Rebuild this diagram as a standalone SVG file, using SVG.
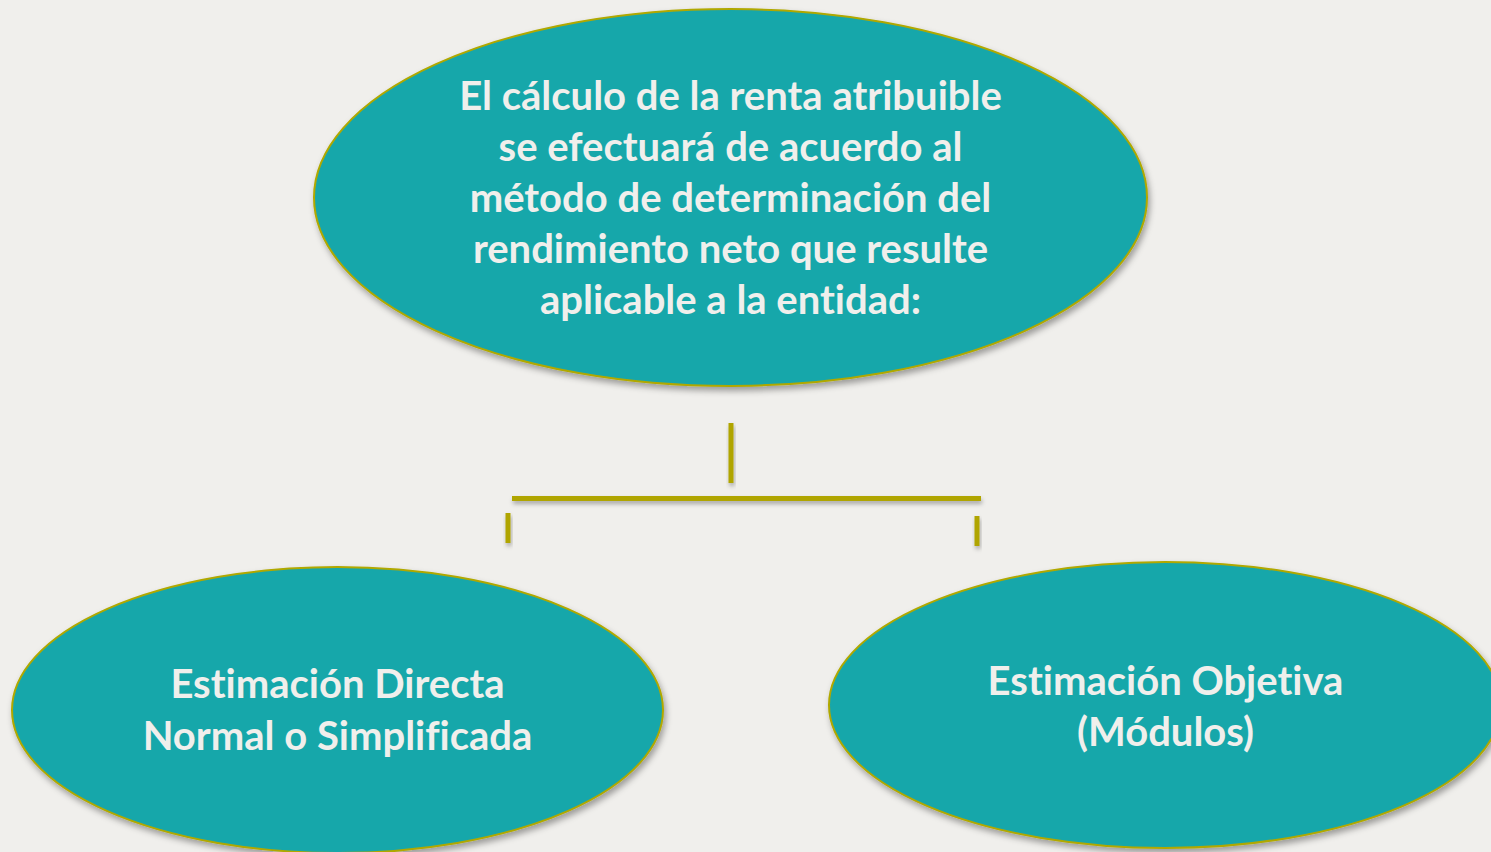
<svg xmlns="http://www.w3.org/2000/svg" width="1491" height="852" viewBox="0 0 1491 852">
<defs>
<filter id="sh" x="-10%" y="-10%" width="120%" height="130%">
<feDropShadow dx="2" dy="4" stdDeviation="3" flood-color="#000" flood-opacity="0.35"/>
</filter>
<filter id="lsh" x="-50%" y="-50%" width="200%" height="300%">
<feDropShadow dx="1" dy="3" stdDeviation="2" flood-color="#000" flood-opacity="0.3"/>
</filter>
<style>
.node{fill:#18A7AA;stroke:#B0A800;stroke-width:2;filter:url(#sh);}
.t{font-family:Lato,"Open Sans","Liberation Sans",sans-serif;font-weight:bold;font-size:40px;fill:#F0EFEC;text-anchor:middle;font-variant-ligatures:none;}
.c{fill:#B0A500;filter:url(#lsh);}
</style>
</defs>
<rect width="1491" height="852" fill="#F0EFEC"/>
<g id="connectors">
<rect class="c" x="728.5" y="423" width="5" height="60"/>
<rect class="c" x="512" y="496" width="469" height="5"/>
<rect class="c" x="505.5" y="513" width="5" height="30"/>
<rect class="c" x="974.5" y="516" width="5" height="30"/>
</g>
<g id="top">
<ellipse class="node" cx="730.5" cy="197.5" rx="416.5" ry="188.5"/>
<text class="t" x="730.5" y="110">El cálculo de la renta atribuible</text>
<text class="t" x="730.5" y="161">se efectuará de acuerdo al</text>
<text class="t" x="730.5" y="212">método de determinación del</text>
<text class="t" x="730.5" y="263">rendimiento neto que resulte</text>
<text class="t" x="730.5" y="314">aplicable a la entidad:</text>
</g>
<g id="left">
<ellipse class="node" cx="337.5" cy="710" rx="325.5" ry="143"/>
<text class="t" x="337.5" y="698">Estimación Directa</text>
<text class="t" x="337.5" y="750">Normal o Simplificada</text>
</g>
<g id="right">
<ellipse class="node" cx="1165" cy="705" rx="336" ry="143"/>
<text class="t" x="1165.5" y="695">Estimación Objetiva</text>
<text class="t" x="1165.5" y="746">(Módulos)</text>
</g>
</svg>
